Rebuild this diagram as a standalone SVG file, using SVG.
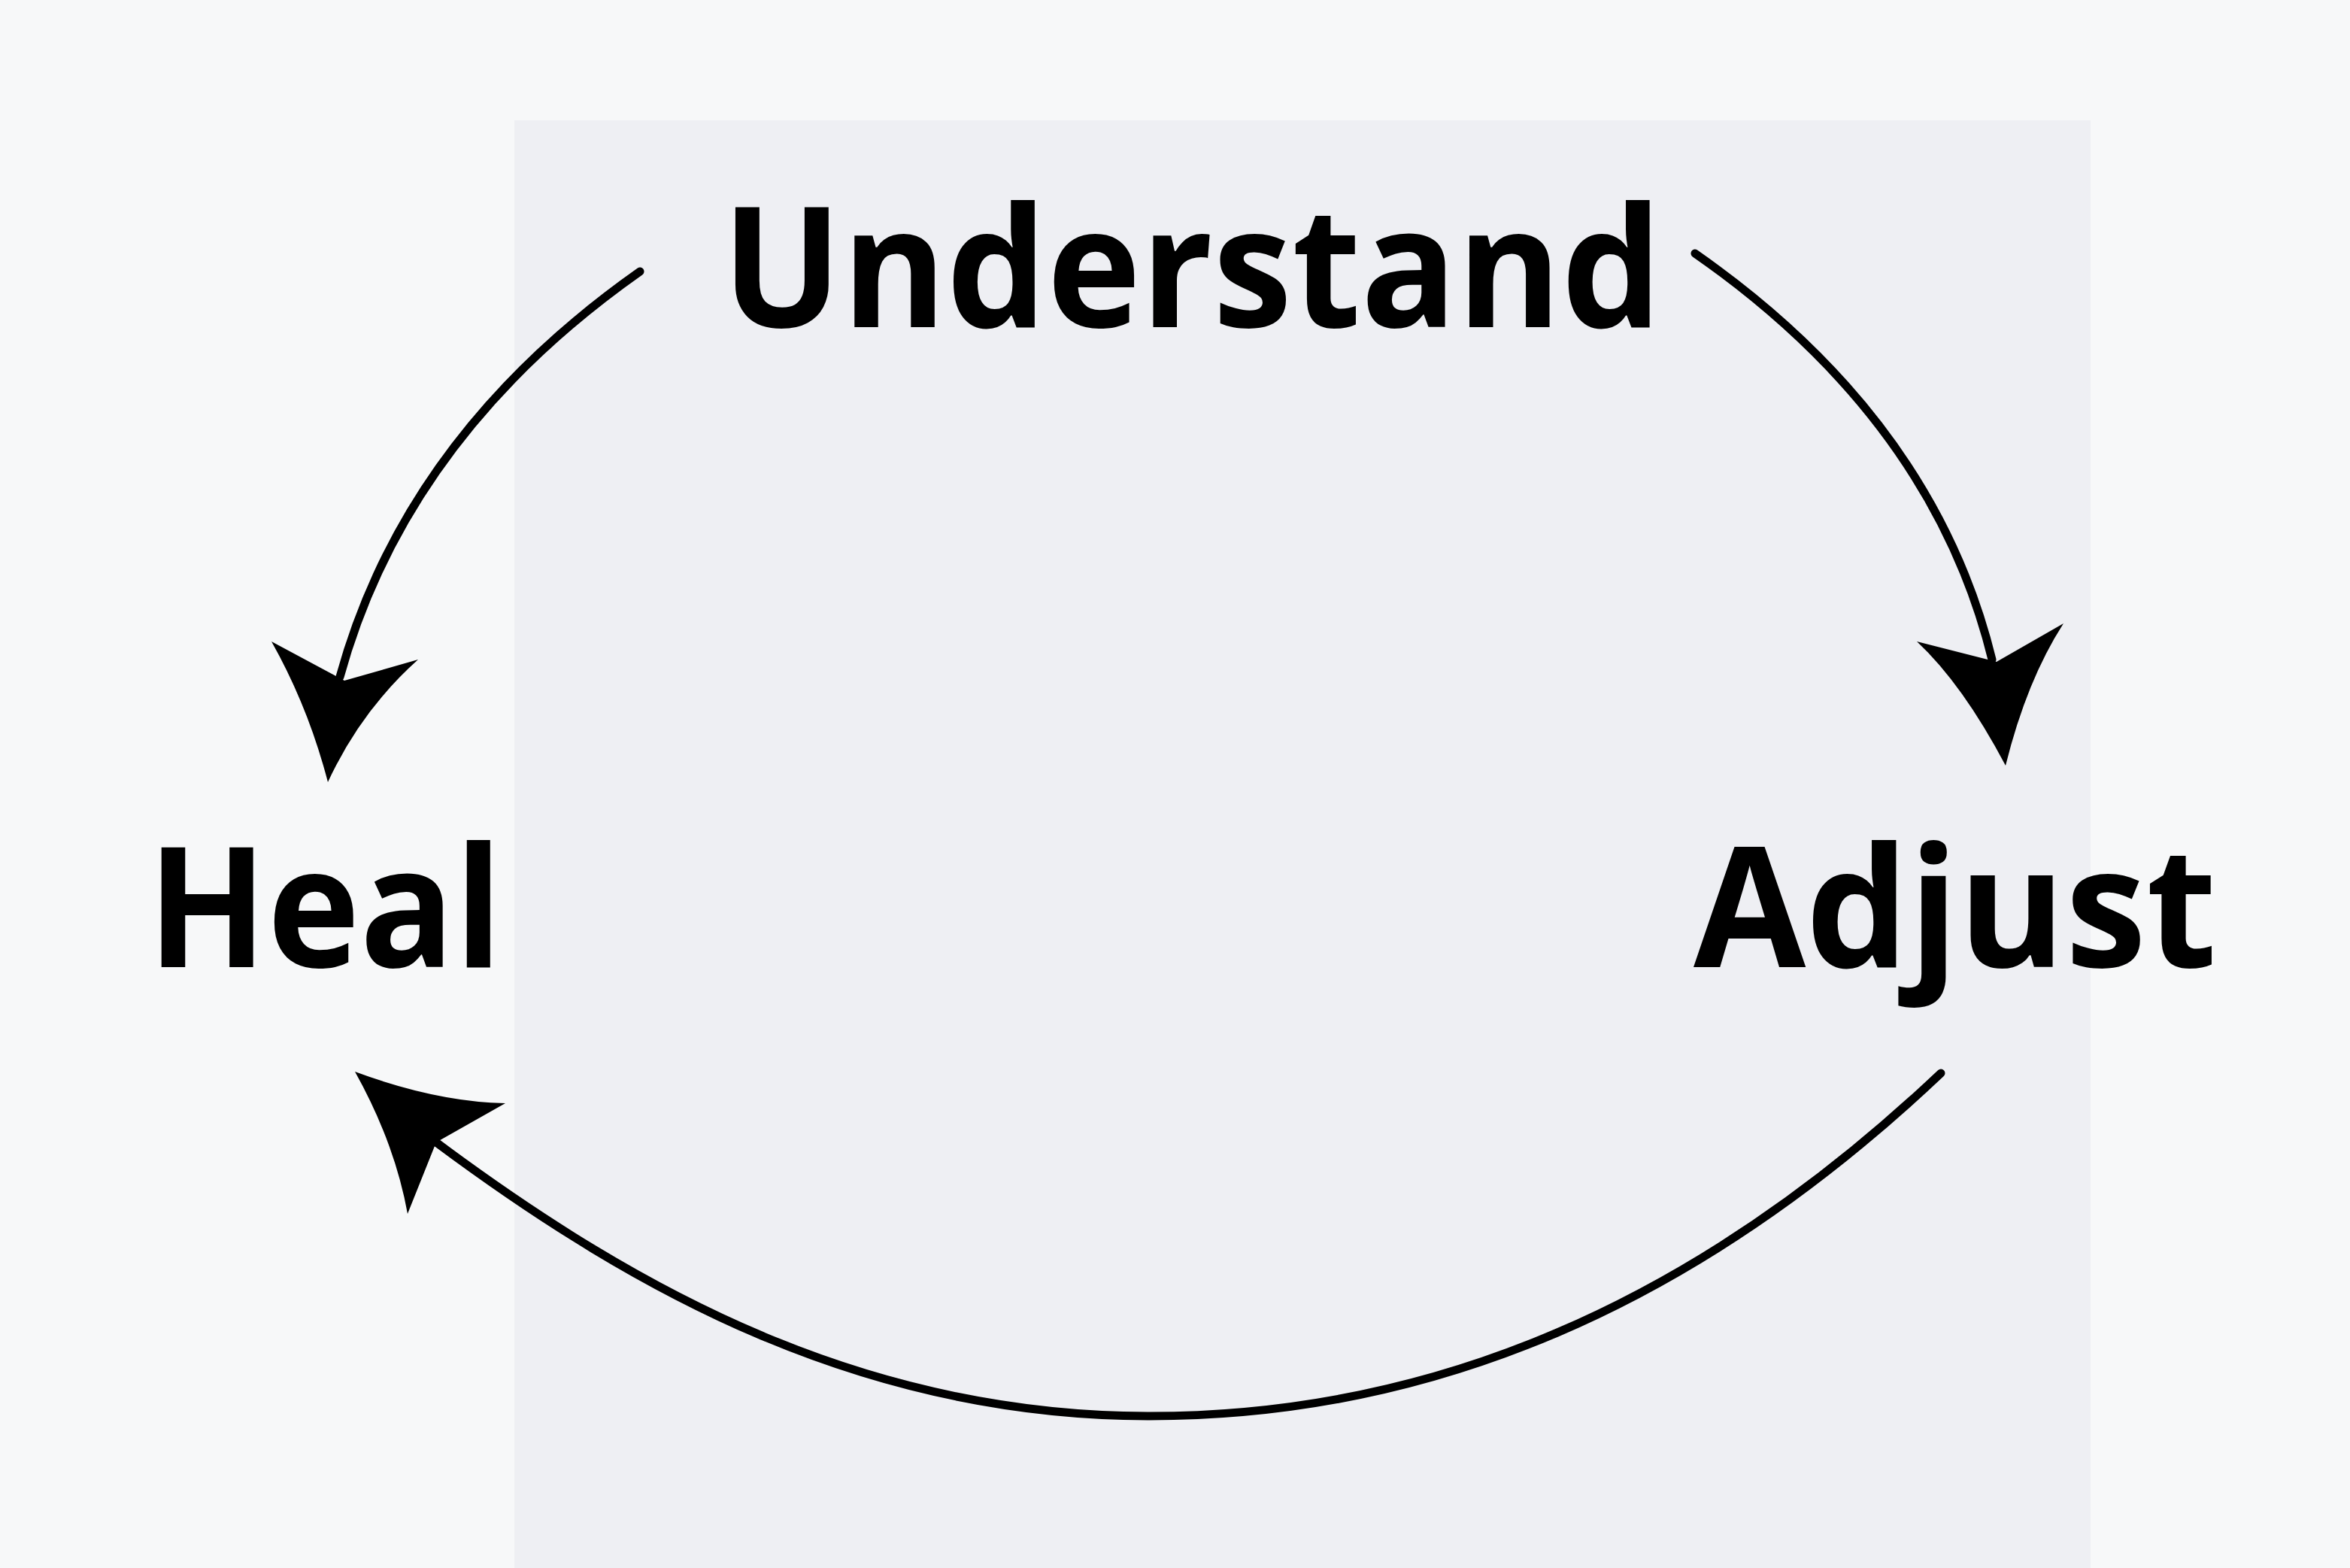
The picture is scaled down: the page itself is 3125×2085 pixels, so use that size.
<svg xmlns="http://www.w3.org/2000/svg" width="3125" height="2085" viewBox="0 0 3125 2085">
<defs><style>
.t{font-family:"Open Sans","Liberation Sans",sans-serif;font-weight:bold;fill:#000}
.c{fill:none;stroke:#000;stroke-width:11;stroke-linecap:round}
.h{fill:#000}
</style></defs>
<rect width="3125" height="2085" fill="#f7f8f9"/>
<rect x="684" y="160" width="2096" height="1925" fill="#eeeff3"/>
<g id="understand"><text class="t" x="960" y="435" font-size="222" textLength="1250" lengthAdjust="spacingAndGlyphs">Understand</text></g>
<g id="heal"><text class="t" x="196" y="1286" font-size="222" textLength="472" lengthAdjust="spacingAndGlyphs">Heal</text></g>
<g id="adjust"><text class="t" x="2252" y="1286" font-size="222" textLength="696" lengthAdjust="spacingAndGlyphs">Adjust</text></g>
<g id="connectors">
<path class="c" d="M851,361 Q540,580 452,900"/>
<path class="h" d="M361,853 Q410,940 436,1040 Q480,945 556,877 L458,905 Z"/>
<path class="c" d="M2254,337 Q2571,558 2649,877"/>
<path class="h" d="M2549,853 Q2610,910 2667,1018 Q2695,905 2744,829 L2655,880 Z"/>
<path class="c" d="M2581,1427 C2250,1740 1900,1883 1529,1883 C1150,1883 850,1720 580,1519"/>
<path class="h" d="M472,1425 Q580,1465 672,1467 L580,1519 L542,1614 Q525,1520 472,1425 Z"/>
</g>
</svg>
